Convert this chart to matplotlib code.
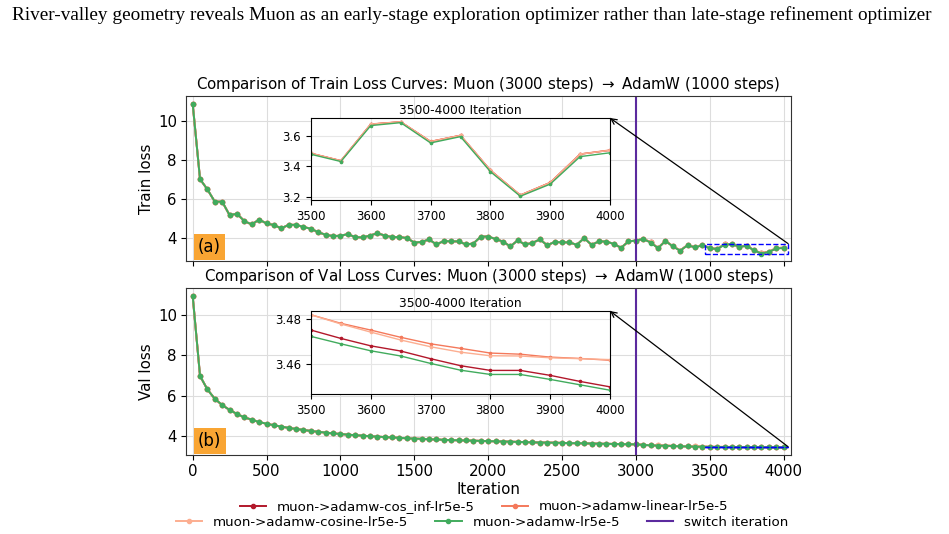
import matplotlib.pyplot as plt
import numpy as np
from matplotlib.patches import ConnectionPatch, Rectangle
from matplotlib.lines import Line2D

plt.rcParams["font.family"] = ["DejaVu Sans"]

# iterations 0..4000 every 50 steps; Muon phase up to 3000 is shared by all runs
iters = np.arange(0, 4001, 50)

train_muon = [10.92, 7.03, 6.50, 5.87, 5.87, 5.18, 5.25, 4.87, 4.70, 4.95,
              4.75, 4.67, 4.50, 4.68, 4.68, 4.57, 4.48, 4.30, 4.17, 4.10,
              4.12, 4.20, 4.05, 4.03, 4.13, 4.25, 4.13, 4.05, 4.05, 4.00,
              3.77, 3.80, 3.93, 3.67, 3.85, 3.83, 3.83, 3.67, 3.72, 4.07,
              4.08, 3.95, 3.82, 3.57, 3.88, 3.67, 3.75, 3.93, 3.63, 3.80,
              3.78, 3.78, 3.65, 4.00, 3.65, 3.83, 3.82, 3.70, 3.50, 3.83,
              3.87]
# AdamW phase 3050..4000
train_cos_inf = [3.96, 3.78, 3.49, 3.86, 3.58, 3.36, 3.64, 3.53, 3.64,
                 3.485, 3.437, 3.675, 3.690, 3.562, 3.602, 3.375, 3.213, 3.295, 3.480, 3.505]
train_linear = [3.96, 3.78, 3.49, 3.86, 3.58, 3.36, 3.64, 3.53, 3.64,
                3.486, 3.438, 3.676, 3.691, 3.563, 3.603, 3.376, 3.214, 3.296, 3.481, 3.507]
train_cosine = [3.96, 3.78, 3.49, 3.86, 3.58, 3.36, 3.64, 3.53, 3.64,
                3.485, 3.437, 3.675, 3.690, 3.562, 3.602, 3.375, 3.213, 3.295, 3.480, 3.505]
train_adamw = [3.95, 3.77, 3.48, 3.85, 3.57, 3.35, 3.63, 3.52, 3.63,
               3.479, 3.432, 3.666, 3.685, 3.553, 3.594, 3.366, 3.206, 3.285, 3.464, 3.489]

val_muon = [10.95, 6.98, 6.31, 5.85, 5.54, 5.30, 5.10, 4.93, 4.82, 4.70,
            4.62, 4.54, 4.48, 4.41, 4.36, 4.31, 4.26, 4.22, 4.18, 4.14,
            4.11, 4.08, 4.05, 4.03, 4.00, 3.98, 3.96, 3.94, 3.92, 3.90,
            3.88, 3.87, 3.85, 3.84, 3.82, 3.81, 3.80, 3.79, 3.78, 3.77,
            3.76, 3.75, 3.74, 3.73, 3.72, 3.71, 3.70, 3.69, 3.685, 3.68,
            3.67, 3.66, 3.655, 3.65, 3.64, 3.63, 3.625, 3.62, 3.61, 3.605,
            3.60]
val_cos_inf = [3.572, 3.553, 3.542, 3.532, 3.518, 3.507, 3.497, 3.489, 3.481,
               3.4751, 3.4714, 3.4681, 3.4658, 3.4624, 3.4593, 3.4572, 3.4572, 3.4550, 3.4523, 3.4499]
val_linear = [3.578, 3.558, 3.548, 3.538, 3.524, 3.513, 3.503, 3.495, 3.488,
              3.4819, 3.4781, 3.4751, 3.4719, 3.4690, 3.4670, 3.4649, 3.4644, 3.4631, 3.4625, 3.4617]
val_cosine = [3.578, 3.558, 3.548, 3.538, 3.524, 3.513, 3.503, 3.495, 3.488,
              3.4819, 3.4778, 3.4742, 3.4707, 3.4677, 3.4653, 3.4637, 3.4636, 3.4628, 3.4624, 3.4620]
val_adamw = [3.570, 3.550, 3.540, 3.530, 3.515, 3.505, 3.495, 3.487, 3.479,
             3.4723, 3.4690, 3.4659, 3.4636, 3.4603, 3.4573, 3.4554, 3.4554, 3.4532, 3.4508, 3.4484]

labels = ["muon->adamw-cos_inf-lr5e-5", "muon->adamw-linear-lr5e-5",
          "muon->adamw-cosine-lr5e-5", "muon->adamw-lr5e-5"]
colors = ["#b2182b", "#f4795b", "#fcae91", "#41ab5d"]
switch_color = "#5b2a9e"
switch_iter = 3000
zoom_range = (3500, 4000)

W, H = 949, 534
fig = plt.figure(figsize=(W / 100, H / 100), dpi=100)


def px_axes(x0, y0, x1, y1):
    return fig.add_axes([x0 / W, 1 - y1 / H, (x1 - x0) / W, (y1 - y0) / H])


fig.text(12 / W, 1 - 15 / H,
         "River-valley geometry reveals Muon as an early-stage exploration optimizer "
         "rather than late-stage refinement optimizer",
         family="Liberation Serif", fontsize=13.9, ha="left", va="center")

ax_train = px_axes(186, 96, 791, 261)
ax_val = px_axes(186, 288, 791, 455)
in_train = px_axes(311, 118, 610, 200)
in_val = px_axes(311, 311, 610, 394)

panels = [
    (ax_train, in_train, train_muon, [train_cos_inf, train_linear, train_cosine, train_adamw],
     "Comparison of Train Loss Curves: Muon (3000 steps) $\\rightarrow$ AdamW (1000 steps)",
     "Train loss", "(a)"),
    (ax_val, in_val, val_muon, [val_cos_inf, val_linear, val_cosine, val_adamw],
     "Comparison of Val Loss Curves: Muon (3000 steps) $\\rightarrow$ AdamW (1000 steps)",
     "Val loss", "(b)"),
]

for ax, inset, muon, tails, title, ylabel, tag in panels:
    for tail, label, color in zip(tails, labels, colors):
        series = np.array(list(muon) + list(tail))
        ax.plot(iters, series, color=color, lw=1.4, marker="o", ms=3.0, label=label)
        sel = (iters >= zoom_range[0]) & (iters <= zoom_range[1])
        inset.plot(iters[sel], series[sel], color=color, lw=1.0, marker="o", ms=1.6)
    ax.axvline(switch_iter, color=switch_color, lw=1.5, label="switch iteration")
    ax.set_xlim(-45, 4050)
    ax.set_title(title, fontsize=10.8, pad=5)
    ax.set_ylabel(ylabel, fontsize=10.8, labelpad=3)
    ax.tick_params(labelsize=10.8, pad=3)
    ax.grid(color="#dddddd", lw=0.8)
    ax.set_xticks(range(0, 4001, 500))
    for s in ax.spines.values():
        s.set_color("#333333")
    ax.text(0.02, 0.03, tag, transform=ax.transAxes, fontsize=12,
            ha="left", va="bottom",
            bbox=dict(facecolor="#f9a533", edgecolor="none", pad=3))

    inset.set_xlim(*zoom_range)
    inset.set_title("3500-4000 Iteration", fontsize=8.8, pad=3)
    inset.tick_params(labelsize=8.5)
    inset.grid(color="#e6e6e6", lw=0.8)
    y0, y1 = inset.get_ylim()
    ax.add_patch(Rectangle((3470, y0), 560, y1 - y0, fill=False,
                           edgecolor="blue", lw=1.0, ls="--", zorder=5))
    con = ConnectionPatch(xyA=(4030, y1), coordsA=ax.transData,
                          xyB=(1, 1), coordsB=inset.transAxes,
                          arrowstyle="->", color="black", lw=0.9)
    fig.add_artist(con)

ax_train.tick_params(labelbottom=False)
ax_val.set_xlabel("Iteration", fontsize=10.8, labelpad=2)

h = [Line2D([], [], color=c, lw=1.4, marker="o", ms=3.0) for c in colors]
h_switch = Line2D([], [], color=switch_color, lw=1.5)
fig.legend([h[0], h[1]], [labels[0], labels[1]], ncol=2, loc="center",
           bbox_to_anchor=(484 / W, 1 - 507 / H), frameon=False, fontsize=9.6,
           handletextpad=0.8, columnspacing=2.0, borderpad=0)
fig.legend([h[2], h[3], h_switch], [labels[2], labels[3], "switch iteration"], ncol=3,
           loc="center", bbox_to_anchor=(482 / W, 1 - 522 / H), frameon=False,
           fontsize=9.6, handletextpad=0.8, columnspacing=2.0, borderpad=0)

fig.savefig("out.png", dpi=100)
